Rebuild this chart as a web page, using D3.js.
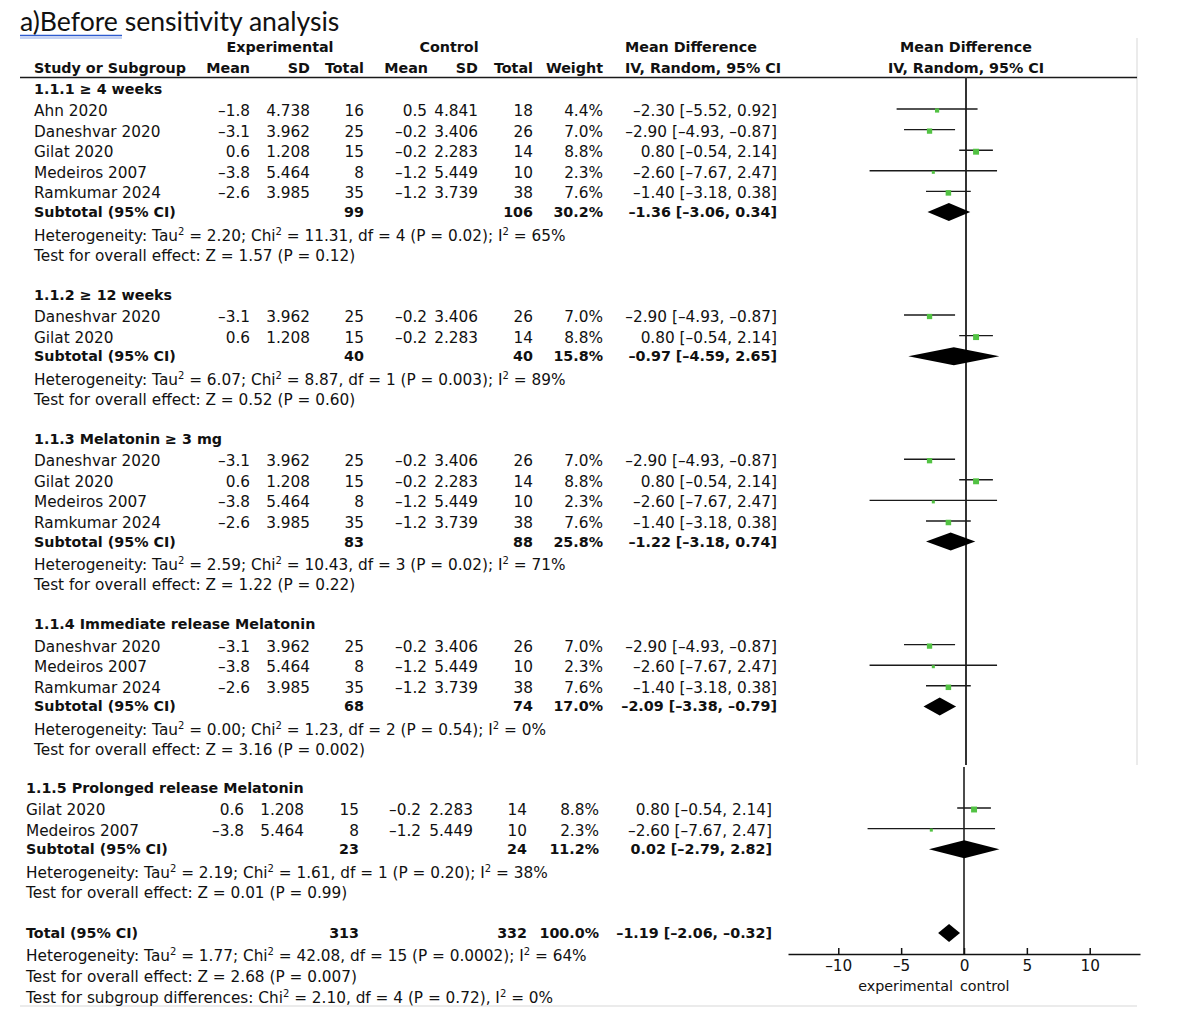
<!DOCTYPE html>
<html><head><meta charset="utf-8">
<script src="https://cdn.jsdelivr.net/npm/d3@7"></script>
<style>
body{margin:0;background:#fff}
svg{display:block}
text{font-family:"DejaVu Sans",sans-serif;fill:#111;font-size:15.3px}
text.b{font-weight:bold;font-size:14.3px}
</style>
</head><body><svg id="c" width="1190" height="1014"></svg>
<script>
// ---------------- DATA ----------------
const titleText = "a)Before sensitivity analysis";
const groupNames = ["1.1.1 \u2265 4 weeks","1.1.2 \u2265 12 weeks","1.1.3 Melatonin \u2265 3 mg","1.1.4 Immediate release Melatonin","1.1.5 Prolonged release Melatonin"];
const studyGroup = [0,0,0,0,0, 1,1, 2,2,2,2, 3,3,3, 4,4];
const studyNames = ["Ahn 2020","Daneshvar 2020","Gilat 2020","Medeiros 2007","Ramkumar 2024",
  "Daneshvar 2020","Gilat 2020",
  "Daneshvar 2020","Gilat 2020","Medeiros 2007","Ramkumar 2024",
  "Daneshvar 2020","Medeiros 2007","Ramkumar 2024",
  "Gilat 2020","Medeiros 2007"];
const expMean = [-1.8,-3.1,0.6,-3.8,-2.6, -3.1,0.6, -3.1,0.6,-3.8,-2.6, -3.1,-3.8,-2.6, 0.6,-3.8];
const expSD   = [4.738,3.962,1.208,5.464,3.985, 3.962,1.208, 3.962,1.208,5.464,3.985, 3.962,5.464,3.985, 1.208,5.464];
const expN    = [16,25,15,8,35, 25,15, 25,15,8,35, 25,8,35, 15,8];
const ctlMean = [0.5,-0.2,-0.2,-1.2,-1.2, -0.2,-0.2, -0.2,-0.2,-1.2,-1.2, -0.2,-1.2,-1.2, -0.2,-1.2];
const ctlSD   = [4.841,3.406,2.283,5.449,3.739, 3.406,2.283, 3.406,2.283,5.449,3.739, 3.406,5.449,3.739, 2.283,5.449];
const ctlN    = [18,26,14,10,38, 26,14, 26,14,10,38, 26,10,38, 14,10];
const weight  = [4.4,7.0,8.8,2.3,7.6, 7.0,8.8, 7.0,8.8,2.3,7.6, 7.0,2.3,7.6, 8.8,2.3];
const md      = [-2.30,-2.90,0.80,-2.60,-1.40, -2.90,0.80, -2.90,0.80,-2.60,-1.40, -2.90,-2.60,-1.40, 0.80,-2.60];
const ciLo    = [-5.52,-4.93,-0.54,-7.67,-3.18, -4.93,-0.54, -4.93,-0.54,-7.67,-3.18, -4.93,-7.67,-3.18, -0.54,-7.67];
const ciHi    = [0.92,-0.87,2.14,2.47,0.38, -0.87,2.14, -0.87,2.14,2.47,0.38, -0.87,2.47,0.38, 2.14,2.47];

const subExpN   = [99,40,83,68,23];
const subCtlN   = [106,40,88,74,24];
const subWeight = [30.2,15.8,25.8,17.0,11.2];
const subMD     = [-1.36,-0.97,-1.22,-2.09,0.02];
const subLo     = [-3.06,-4.59,-3.18,-3.38,-2.79];
const subHi     = [0.34,2.65,0.74,-0.79,2.82];
const subHet = [
  "Heterogeneity: Tau\u00b2 = 2.20; Chi\u00b2 = 11.31, df = 4 (P = 0.02); I\u00b2 = 65%",
  "Heterogeneity: Tau\u00b2 = 6.07; Chi\u00b2 = 8.87, df = 1 (P = 0.003); I\u00b2 = 89%",
  "Heterogeneity: Tau\u00b2 = 2.59; Chi\u00b2 = 10.43, df = 3 (P = 0.02); I\u00b2 = 71%",
  "Heterogeneity: Tau\u00b2 = 0.00; Chi\u00b2 = 1.23, df = 2 (P = 0.54); I\u00b2 = 0%",
  "Heterogeneity: Tau\u00b2 = 2.19; Chi\u00b2 = 1.61, df = 1 (P = 0.20); I\u00b2 = 38%"];
const subTest = [
  "Test for overall effect: Z = 1.57 (P = 0.12)",
  "Test for overall effect: Z = 0.52 (P = 0.60)",
  "Test for overall effect: Z = 1.22 (P = 0.22)",
  "Test for overall effect: Z = 3.16 (P = 0.002)",
  "Test for overall effect: Z = 0.01 (P = 0.99)"];

const totalExpN = 313, totalCtlN = 332, totalWeight = 100.0;
const totalMD = -1.19, totalLo = -2.06, totalHi = -0.32;
const totalNotes = [
  "Heterogeneity: Tau\u00b2 = 1.77; Chi\u00b2 = 42.08, df = 15 (P = 0.0002); I\u00b2 = 64%",
  "Test for overall effect: Z = 2.68 (P = 0.007)",
  "Test for subgroup differences: Chi\u00b2 = 2.10, df = 4 (P = 0.72), I\u00b2 = 0%"];

const axisTicks = [-10,-5,0,5,10];
const favourLabels = ["experimental","control"];

// ---------------- LAYOUT ----------------
const svg = d3.select("#c");
const loc = d3.formatLocale({decimal:".",thousands:",",grouping:[3],currency:["",""],minus:"\u2013"});
const f1 = loc.format(".1f"), f2 = loc.format(".2f"), f3 = loc.format(".3f");
const ci = (m,l,h)=>`${f2(m)} [${f2(l)}, ${f2(h)}]`;

const xTop = d3.scaleLinear().domain([-14,14]).range([966-176, 966+176]);
const xBot = d3.scaleLinear().domain([-14,14]).range([964-176, 964+176]);

const colsTop = {name:34, eM:250, eS:310, eN:364, cM:427, cS:478, cN:533, w:603, ci:777};
const colsBot = {name:26, eM:244, eS:304, eN:359, cM:421, cS:473, cN:527, w:599, ci:772};

function richText(sel, str){
  const parts = str.split("\u00b2");
  parts.forEach((p,i)=>{
    if(i>0){
      sel.append("tspan").attr("dy",-6).style("font-size","10px").text("2");
      sel.append("tspan").attr("dy",6).text(p);
    } else sel.append("tspan").text(p);
  });
}
function txt(x,y,s,opt={}){
  const t = svg.append("text").attr("x",x).attr("y",y)
    .attr("text-anchor",opt.anchor||"start");
  if(opt.bold) t.attr("class","b");
  if(opt.rich) richText(t,s); else t.text(s);
  return t;
}

// title
svg.append("text").attr("x",20).attr("y",31)
  .style("font-family","Lato, 'Open Sans', sans-serif").style("font-size","26.6px").style("fill","#111")
  .text(titleText);
svg.append("line").attr("x1",20).attr("x2",122).attr("y1",35.5).attr("y2",35.5).attr("stroke","#2d5bd0").attr("stroke-width",1.6);
svg.append("line").attr("x1",20).attr("x2",122).attr("y1",38).attr("y2",38).attr("stroke","#8aa6e8").attr("stroke-width",1);

// headers
txt(280,52,"Experimental",{bold:true,anchor:"middle"});
txt(449,52,"Control",{bold:true,anchor:"middle"});
txt(625,52,"Mean Difference",{bold:true});
txt(966,52,"Mean Difference",{bold:true,anchor:"middle"});
txt(34,73,"Study or Subgroup",{bold:true});
txt(colsTop.eM,73,"Mean",{bold:true,anchor:"end"});
txt(colsTop.eS,73,"SD",{bold:true,anchor:"end"});
txt(colsTop.eN,73,"Total",{bold:true,anchor:"end"});
txt(colsTop.cM+1,73,"Mean",{bold:true,anchor:"end"});
txt(colsTop.cS,73,"SD",{bold:true,anchor:"end"});
txt(colsTop.cN,73,"Total",{bold:true,anchor:"end"});
txt(colsTop.w,73,"Weight",{bold:true,anchor:"end"});
txt(625,73,"IV, Random, 95% CI",{bold:true});
txt(966,73,"IV, Random, 95% CI",{bold:true,anchor:"middle"});

// frame lines
svg.append("line").attr("x1",1137).attr("x2",1137).attr("y1",38).attr("y2",765).attr("stroke","#e4e4e4").attr("stroke-width",1.5);
svg.append("line").attr("x1",20).attr("x2",1137).attr("y1",1006).attr("y2",1006).attr("stroke","#e4e4e4").attr("stroke-width",1.5);
svg.append("line").attr("x1",20).attr("x2",1137).attr("y1",77.5).attr("y2",77.5).attr("stroke","#1a1a1a").attr("stroke-width",1.5);

// zero lines
svg.append("line").attr("x1",xTop(0)).attr("x2",xTop(0)).attr("y1",77).attr("y2",765).attr("stroke","#333").attr("stroke-width",2);
svg.append("line").attr("x1",xBot(0)).attr("x2",xBot(0)).attr("y1",767).attr("y2",954).attr("stroke","#111").attr("stroke-width",1.5);

function diamond(x, cy, m, l, h){
  const pts = [[x(l),cy],[x(m),cy-9],[x(h),cy],[x(m),cy+9]];
  svg.append("path").attr("d", d3.line()(pts)+"Z").attr("fill","#000");
}

let y = 88;
for(let g=0; g<groupNames.length; g++){
  const bottom = g===4;
  if(bottom) y = 787;
  const C = bottom ? colsBot : colsTop;
  const x = bottom ? xBot : xTop;
  txt(C.name, y+5.5, groupNames[g], {bold:true});
  const idx = d3.range(studyNames.length).filter(i=>studyGroup[i]===g);
  const sy = y + 21;
  idx.forEach((i,k)=>{
    const ry = sy + 20.6*k;
    const ty = ry + 7;
    txt(C.name, ty, studyNames[i]);
    txt(C.eM, ty, f1(expMean[i]), {anchor:"end"});
    txt(C.eS, ty, f3(expSD[i]), {anchor:"end"});
    txt(C.eN, ty, String(expN[i]), {anchor:"end"});
    txt(C.cM, ty, f1(ctlMean[i]), {anchor:"end"});
    txt(C.cS, ty, f3(ctlSD[i]), {anchor:"end"});
    txt(C.cN, ty, String(ctlN[i]), {anchor:"end"});
    txt(C.w, ty, f1(weight[i])+"%", {anchor:"end"});
    txt(C.ci, ty, ci(md[i],ciLo[i],ciHi[i]), {anchor:"end"});
    svg.append("line").attr("x1",x(ciLo[i])).attr("x2",x(ciHi[i])).attr("y1",ry).attr("y2",ry)
      .attr("stroke","#1a1a1a").attr("stroke-width",1.4);
    const s = 2.0*Math.sqrt(weight[i]);
    svg.append("rect").attr("x",x(md[i])-s/2).attr("y",ry+1.5-s/2).attr("width",s).attr("height",s).attr("fill","#52c243");
  });
  const subY = sy + 20.6*idx.length;
  const st = subY + 5;
  txt(C.name, st, "Subtotal (95% CI)", {bold:true});
  txt(C.eN, st, String(subExpN[g]), {bold:true,anchor:"end"});
  txt(C.cN, st, String(subCtlN[g]), {bold:true,anchor:"end"});
  txt(C.w, st, f1(subWeight[g])+"%", {bold:true,anchor:"end"});
  txt(C.ci, st, ci(subMD[g],subLo[g],subHi[g]), {bold:true,anchor:"end"});
  diamond(x, subY, subMD[g], subLo[g], subHi[g]);
  txt(C.name, subY+23+5.5, subHet[g], {rich:true});
  txt(C.name, subY+43+5.5, subTest[g]);
  y = subY + 43 + 39;
}

// total
{
  const C = colsBot, x = xBot;
  const ty = 933;
  txt(C.name, ty+5, "Total (95% CI)", {bold:true});
  txt(C.eN, ty+5, String(totalExpN), {bold:true,anchor:"end"});
  txt(C.cN, ty+5, String(totalCtlN), {bold:true,anchor:"end"});
  txt(C.w, ty+5, f1(totalWeight)+"%", {bold:true,anchor:"end"});
  txt(C.ci, ty+5, ci(totalMD,totalLo,totalHi), {bold:true,anchor:"end"});
  diamond(x, ty, totalMD, totalLo, totalHi);
  totalNotes.forEach((n,k)=>txt(C.name, ty+22+21*k+5.5, n, {rich:true}));
}

// axis
const axis = d3.axisBottom(xBot).tickValues(axisTicks).tickSizeInner(-6).tickSizeOuter(0).tickPadding(6)
  .tickFormat(loc.format("d"));
const ga = svg.append("g").attr("transform","translate(0,954)").call(axis);
ga.select(".domain").attr("stroke","#111").attr("stroke-width",1.5);
ga.selectAll(".tick line").attr("stroke","#111").attr("stroke-width",1.5);
ga.selectAll(".tick text").style("font-family","DejaVu Sans, sans-serif").style("font-size","15.3px").attr("fill","#111");
txt(xBot(0)-11, 991, favourLabels[0], {anchor:"end"}).style("font-size","14.3px");
txt(xBot(0)-4, 991, favourLabels[1]).style("font-size","14.3px");
</script></body></html>
